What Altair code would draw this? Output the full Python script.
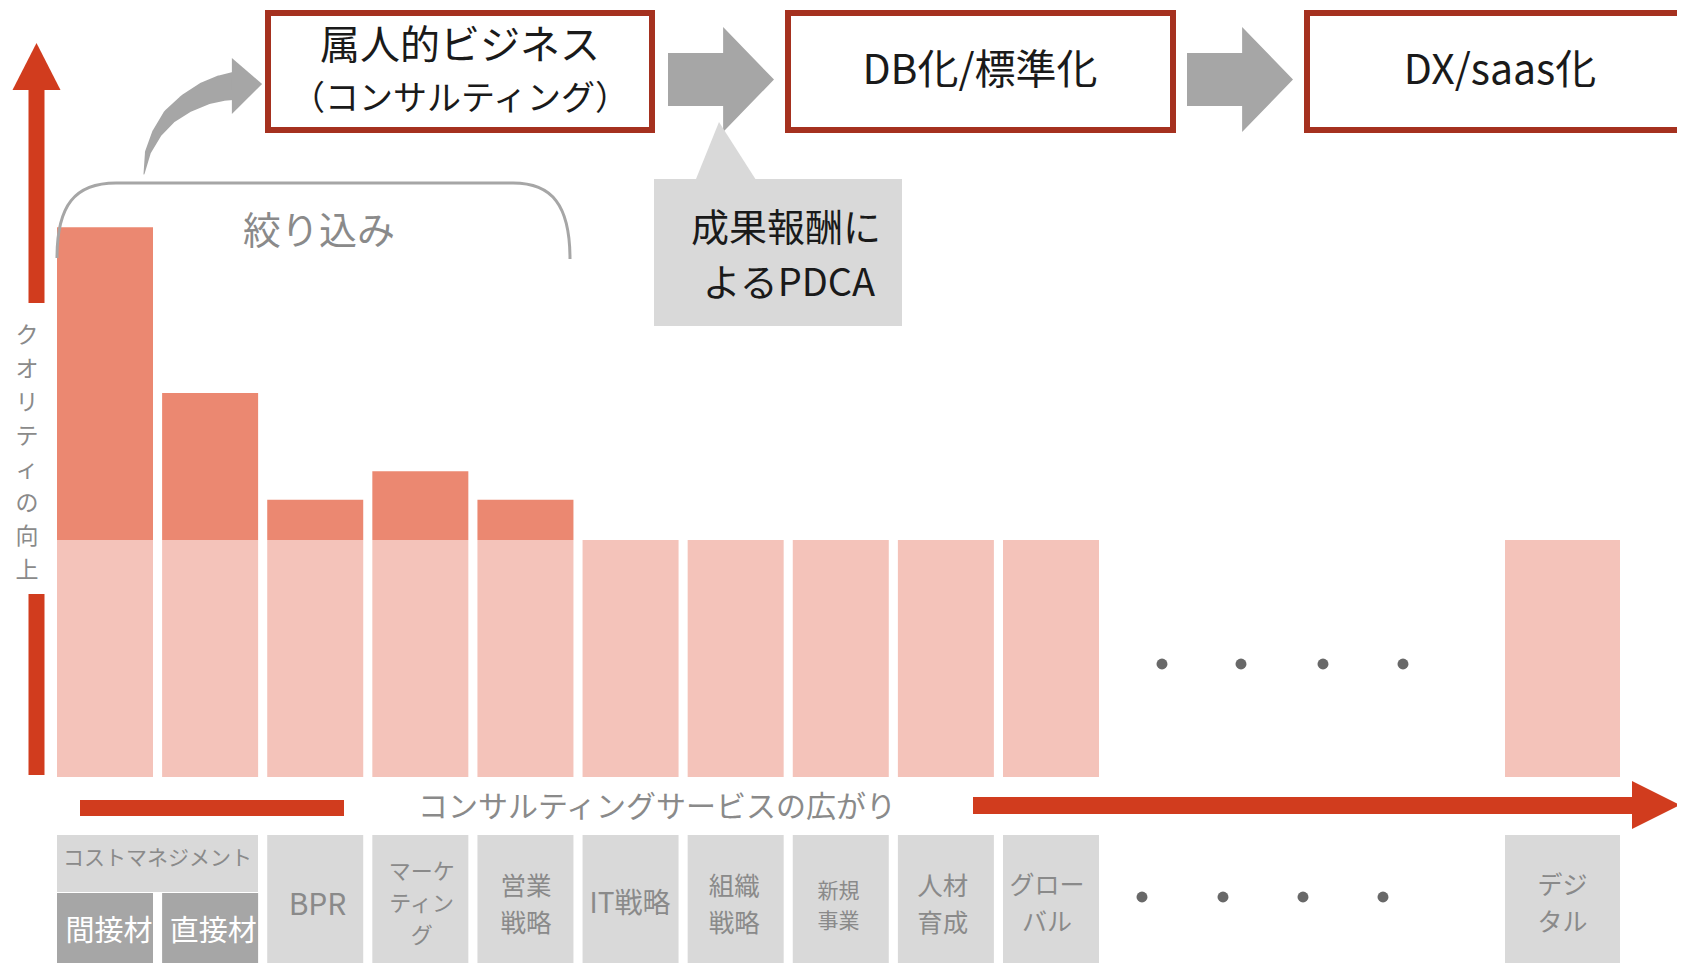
import altair as alt
import pandas as pd

# ---------------- data (content) ----------------
services = ["間接材", "直接材", "BPR", "マーケティング", "営業戦略",
            "IT戦略", "組織戦略", "新規事業", "人材育成", "グローバル"]
last_service = ["デジタル"]
base_quality = [100, 100, 100, 100, 100, 100, 100, 100, 100, 100]
total_quality = [232, 162, 117, 129, 117, 100, 100, 100, 100, 100]
last_base_quality = [100]
last_total_quality = [100]

cell_label_lines = [["間接材"], ["直接材"], ["BPR"], ["マーケ", "ティン", "グ"],
                    ["営業", "戦略"], ["IT戦略"], ["組織", "戦略"], ["新規", "事業"],
                    ["人材", "育成"], ["グロー", "バル"]]
last_label_lines = [["デジ", "タル"]]
group_label = "コストマネジメント"
group_members = ["間接材", "直接材"]
stage_titles = [["属人的ビジネス", "（コンサルティング）"], ["DB化/標準化"], ["DX/saas化"]]
callout_lines = ["成果報酬に", "よるPDCA"]
y_axis_label = "クオリティの向上"
x_axis_label = "コンサルティングサービスの広がり"
bracket_label = "絞り込み"

# ---------------- layout (pixels of the reference page) ----------------
OFF = 8
W, H = 1669, 955


def c(v):
    return v - OFF


BAR_RANGE = [c(57), c(1099)]
LAST_RANGE = [c(1505), c(1620)]
PAD_INNER = 0.0866
Y_ZERO, Y_BASE = c(777), c(540)
CELL_TOP, CELL_BOTTOM = c(835), c(980)
SUB_TOP = c(893)

# centre of each label line in the cells, and font size per cell
cell_line_y = [[932], [932], [905], [872, 904, 936], [887, 924], [904], [887, 924],
               [891, 921.5], [887, 924], [886, 922.5]]
cell_font = [29, 29, 30, 22, 25.5, 28, 25.5, 21, 25.5, 25]
last_line_y = [[886, 922.5]]
last_font = [25]
Y_LABEL_Y0, Y_LABEL_STEP, Y_LABEL_FS = 336, 33.5, 23

# ---------------- styles ----------------
FONT = "Noto Sans CJK JP"
LIGHT = "#F4C3BA"
DARK = "#EB8871"
RED = "#D13C1E"
BOX_RED = "#A5311F"
GREY_SHAPE = "#A6A6A6"
CELL = "#D9D9D9"
CELL_DARK = "#A6A6A6"
TXT_GREY = "#8A8A8A"
TXT_BLACK = "#1A1A1A"
DOT = "#686868"


def base_of(center, fs):
    # alphabetic baseline for a line whose glyphs are centred at `center`
    return center + 0.32 * fs


def px(f):
    return alt.X(f"{f}:Q", scale=None, axis=None)


def py(f):
    return alt.Y(f"{f}:Q", scale=None, axis=None)


def rect_layer(rows, **mk):
    df = pd.DataFrame([[c(a), c(b), c(d), c(e)] for a, b, d, e in rows],
                      columns=["x", "x2", "y", "y2"])
    return alt.Chart(df).mark_rect(**mk).encode(x=px("x"), x2="x2:Q", y=py("y"), y2="y2:Q")


def shape_layer(rows, path, size, color, filled=True, sw=0):
    df = pd.DataFrame([[c(a), c(b)] for a, b in rows], columns=["x", "y"])
    if filled:
        m = alt.Chart(df).mark_point(shape=path, size=size, filled=True, color=color,
                                     opacity=1, strokeWidth=0)
    else:
        m = alt.Chart(df).mark_point(shape=path, size=size, filled=False, color=color,
                                     opacity=1, strokeWidth=sw)
    return m.encode(x=px("x"), y=py("y"))


def text_layer(rows, size, color):
    df = pd.DataFrame([[c(a), c(base_of(b, size)), t] for a, b, t in rows],
                      columns=["x", "y", "t"])
    return alt.Chart(df).mark_text(font=FONT, fontSize=size, color=color, align="center",
                                   baseline="alphabetic").encode(
        x=px("x"), y=py("y"), text="t:N")


def xband(domain, rng, pad):
    return alt.X("service:N", axis=None,
                 scale=alt.Scale(domain=domain, range=rng, paddingInner=pad, paddingOuter=0))


yq = alt.Scale(domain=[0, 100], range=[Y_ZERO, Y_BASE], nice=False, zero=False)

layers = []

# ---- bars ----
bar_df = pd.DataFrame({"service": services, "base": base_quality, "total": total_quality})
last_df = pd.DataFrame({"service": last_service, "base": last_base_quality,
                        "total": last_total_quality})
for df, dom, rng, pad in [(bar_df, services, BAR_RANGE, PAD_INNER),
                          (last_df, last_service, LAST_RANGE, 0)]:
    layers.append(alt.Chart(df).transform_calculate(floor="0").mark_bar(color=LIGHT).encode(
        x=xband(dom, rng, pad), y=alt.Y("floor:Q", scale=yq, axis=None), y2="base:Q"))
    layers.append(alt.Chart(df).transform_filter("datum.total > datum.base").mark_bar(
        color=DARK).encode(x=xband(dom, rng, pad), y=alt.Y("base:Q", scale=yq, axis=None),
                           y2="total:Q"))

# ---- bottom cells ----
cell_df = pd.DataFrame({"service": services,
                        "top": [SUB_TOP if s in group_members else CELL_TOP for s in services],
                        "bottom": [CELL_BOTTOM] * len(services),
                        "fill": [CELL_DARK if s in group_members else CELL for s in services]})
layers.append(alt.Chart(cell_df).mark_bar().encode(
    x=xband(services, BAR_RANGE, PAD_INNER), y=alt.Y("top:Q", scale=None, axis=None),
    y2="bottom:Q", color=alt.Color("fill:N", scale=None, legend=None)))
last_cell_df = pd.DataFrame({"service": last_service, "top": [CELL_TOP], "bottom": [CELL_BOTTOM]})
layers.append(alt.Chart(last_cell_df).mark_bar(color=CELL).encode(
    x=xband(last_service, LAST_RANGE, 0), y=alt.Y("top:Q", scale=None, axis=None),
    y2="bottom:Q"))
layers.append(rect_layer([[57, 258, 835, 892]], color=CELL))

# cell labels: one text per line
rows = []
for s, lines, ys, fs in zip(services, cell_label_lines, cell_line_y, cell_font):
    for t, yy in zip(lines, ys):
        rows.append([s, t, c(base_of(yy, fs)), fs,
                     "#FFFFFF" if s in group_members else TXT_GREY])
lab_df = pd.DataFrame(rows, columns=["service", "t", "y", "fs", "col"])
layers.append(alt.Chart(lab_df).mark_text(font=FONT, baseline="alphabetic",
                                          align="center").encode(
    x=xband(services, BAR_RANGE, PAD_INNER), y=alt.Y("y:Q", scale=None, axis=None),
    text="t:N", size=alt.Size("fs:Q", scale=None, legend=None),
    color=alt.Color("col:N", scale=None, legend=None)))
rows = []
for s, lines, ys, fs in zip(last_service, last_label_lines, last_line_y, last_font):
    for t, yy in zip(lines, ys):
        rows.append([s, t, c(base_of(yy, fs)), fs])
last_lab_df = pd.DataFrame(rows, columns=["service", "t", "y", "fs"])
layers.append(alt.Chart(last_lab_df).mark_text(font=FONT, baseline="alphabetic",
                                               align="center", color=TXT_GREY).encode(
    x=xband(last_service, LAST_RANGE, 0), y=alt.Y("y:Q", scale=None, axis=None),
    text="t:N", size=alt.Size("fs:Q", scale=None, legend=None)))
layers.append(text_layer([[157.5, 858, group_label]], 21, TXT_GREY))

# ---- ellipsis dots ----
layers.append(shape_layer([[1162, 664], [1241, 664], [1323, 664], [1403, 664]],
                          "circle", 120, DOT))
layers.append(shape_layer([[1142, 897], [1223, 897], [1303, 897], [1383, 897]],
                          "circle", 120, DOT))

# ---- left vertical arrow ----
layers.append(rect_layer([[28.5, 44.5, 86, 303], [28.5, 44.5, 594, 775]], color=RED))
layers.append(shape_layer([[36.5, 66.5]], "M0,-0.98 L1,0.98 L-1,0.98 Z", 2304, RED))
layers.append(text_layer([[27, Y_LABEL_Y0 + i * Y_LABEL_STEP, ch]
                          for i, ch in enumerate(y_axis_label)], Y_LABEL_FS, TXT_GREY))

# ---- bottom horizontal arrow ----
layers.append(rect_layer([[80, 344, 800, 816], [973, 1634, 797, 814]], color=RED))
layers.append(shape_layer([[1656, 805]], "M-1,-1 L1,0 L-1,1 Z", 2304, RED))
layers.append(text_layer([[657, 807, x_axis_label]], 30, TXT_GREY))

# ---- stage boxes ----
layers.append(rect_layer([[268, 652, 13, 130], [788, 1173, 13, 130], [1307, 1740, 13, 130]],
                         fill="#FFFFFF", stroke=BOX_RED, strokeWidth=6))
layers.append(text_layer([[460, 46, stage_titles[0][0]]], 40, TXT_BLACK))
layers.append(text_layer([[460, 99, stage_titles[0][1]]], 34, TXT_BLACK))
layers.append(text_layer([[980, 71, stage_titles[1][0]], [1500, 71, stage_titles[2][0]]],
                         41, TXT_BLACK))

# ---- grey block arrows ----
ARROW = "M-1,-0.5 L0.04,-0.5 L0.04,-0.99 L1,0 L0.04,0.99 L0.04,0.5 L-1,0.5 Z"
layers.append(shape_layer([[721, 79.5], [1240, 79.5]], ARROW, 11236, GREY_SHAPE))

# ---- callout ----
layers.append(shape_layer([[726, 150.5]], "M-0.226,-0.919 L1,1 L-1,1 Z", 3844, CELL))
layers.append(rect_layer([[654, 902, 179, 326]], color=CELL))
layers.append(text_layer([[786, 228.5, callout_lines[0]], [789, 283.5, callout_lines[1]]],
                         38, TXT_BLACK))

# ---- bracket + curved arrow ----
BRACKET = ("M-1,0.144 C-1,-0.062 -0.93,-0.148 -0.77,-0.148 L0.778,-0.148 "
           "C0.93,-0.148 1,-0.062 1,0.148")
layers.append(shape_layer([[313.5, 221]], BRACKET, 263169, GREY_SHAPE, filled=False, sw=3))
layers.append(text_layer([[319, 232, bracket_label]], 38, TXT_GREY))

trail_pts = [[144, 174, 1], [148, 152, 6], [157, 133, 10], [170, 116, 15],
             [187, 103, 19], [206, 93, 23], [222, 88, 26], [234, 86, 28]]
trail_df = pd.DataFrame([[c(a), c(b), w, i] for i, (a, b, w) in enumerate(trail_pts)],
                        columns=["x", "y", "w", "i"])
layers.append(alt.Chart(trail_df).mark_trail(color=GREY_SHAPE).encode(
    x=px("x"), y=py("y"), size=alt.Size("w:Q", scale=None, legend=None), order="i:Q"))
layers.append(shape_layer([[247, 86]], "M-0.54,-1 L0.54,-0.07 L-0.54,1 Z", 3136, GREY_SHAPE))

chart = alt.layer(*layers).resolve_scale(x="independent", y="independent").properties(
    width=W, height=H, autosize=alt.AutoSizeParams(type="none"), padding=0,
    background="#FFFFFF").configure_view(stroke=None)

chart.save("out.html", embed_options={"renderer": "svg", "actions": False})
